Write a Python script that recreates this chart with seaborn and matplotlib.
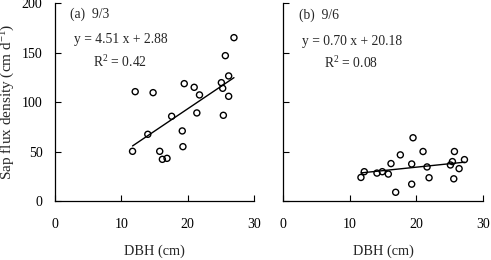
import numpy as np
import pandas as pd
import matplotlib
matplotlib.use("Agg")
import matplotlib.pyplot as plt
import seaborn as sns

# Panel (a) 9/3
dbh_a = [11.7, 12.1, 14.8, 14.0, 15.8, 16.2, 16.9, 17.6, 19.2, 19.3, 19.5,
         21.0, 21.4, 21.8, 25.1, 25.3, 25.4, 25.7, 26.2, 26.2, 27.0]
sap_a = [50.2, 110.5, 109.5, 67.4, 50.2, 42.1, 43.1, 85.6, 70.8, 54.9, 118.6,
         114.9, 89.0, 107.2, 119.6, 113.9, 86.6, 146.9, 105.8, 126.4, 165.1]
# Panel (b) 9/6
dbh_b = [11.7, 12.2, 14.1, 14.9, 15.8, 16.2, 16.9, 17.6, 19.3, 19.3, 19.5,
         21.0, 21.6, 21.9, 25.1, 25.4, 25.6, 25.7, 26.4, 27.2]
sap_b = [23.8, 29.6, 28.2, 29.6, 27.2, 37.8, 8.8, 46.6, 17.0, 37.4, 63.9,
         50.0, 34.4, 23.5, 36.4, 39.8, 22.4, 50.0, 32.7, 41.8]

slopes = [4.51, 0.70]
intercepts = [2.88, 20.18]
panel_labels = ["(a)  9/3", "(b)  9/6"]
eq_labels = ["y = 4.51 x + 2.88", "y = 0.70 x + 20.18"]
r2_labels = ["R$^2$ = 0.42", "R$^2$ = 0.08"]
x_ticks = [0, 10, 20, 30]
y_ticks = [0, 50, 100, 150, 200]

sns.set_theme(style="ticks")
plt.rcParams['font.family'] = ['Liberation Serif', 'DejaVu Serif']
plt.rcParams['mathtext.fontset'] = 'custom'
plt.rcParams['mathtext.rm'] = 'Liberation Serif'
plt.rcParams['mathtext.it'] = 'Liberation Serif'

fig = plt.figure(figsize=(4.91, 2.6), dpi=100)
ax1 = fig.add_axes([0.112, 0.227, 0.405, 0.761])
ax2 = fig.add_axes([0.576, 0.227, 0.408, 0.761])

datasets = [(dbh_a, sap_a), (dbh_b, sap_b)]
text_pos = [((2.2, 189), (2.9, 163), (5.7, 140)),
            ((2.4, 188), (2.9, 161), (6.1, 139))]

for i, (ax, (xs, ys)) in enumerate(zip([ax1, ax2], datasets)):
    df = pd.DataFrame({"DBH": xs, "Sap": ys})
    sns.scatterplot(data=df, x="DBH", y="Sap", ax=ax, marker="o", s=19,
                    facecolor="none", edgecolor="black", linewidth=1.0, zorder=3)
    xl = np.array([min(xs), max(xs)])
    ax.plot(xl, slopes[i] * xl + intercepts[i], color="black", lw=1.0)
    ax.set_xlim(0, 30)
    ax.set_ylim(0, 200)
    ax.set_xticks(x_ticks)
    ax.set_yticks(y_ticks)
    ax.tick_params(direction="in", length=4, width=0.8, labelsize=10, colors="black")
    ax.tick_params(axis="x", pad=12)
    ax.tick_params(axis="y", pad=9)
    for s in ["top", "right"]:
        ax.spines[s].set_visible(False)
    for s in ["left", "bottom"]:
        ax.spines[s].set_color("black")
        ax.spines[s].set_linewidth(0.9)
    ax.set_xlabel("DBH (cm)", fontsize=10.3, labelpad=10)
    (p1, p2, p3) = text_pos[i]
    ax.text(p1[0], p1[1], panel_labels[i], fontsize=9.8, va="center", ha="left")
    ax.text(p2[0], p2[1], eq_labels[i], fontsize=9.8, va="center", ha="left")
    ax.text(p3[0], p3[1], r2_labels[i], fontsize=9.8, va="center", ha="left")

ax1.set_ylabel("Sap flux density (cm d$^{-1}$)", fontsize=11, va="center")
ax1.yaxis.set_label_coords(-0.235, 0.5)
ax2.set_ylabel("")
ax2.set_yticklabels([])

fig.savefig("out.png", dpi=100)
